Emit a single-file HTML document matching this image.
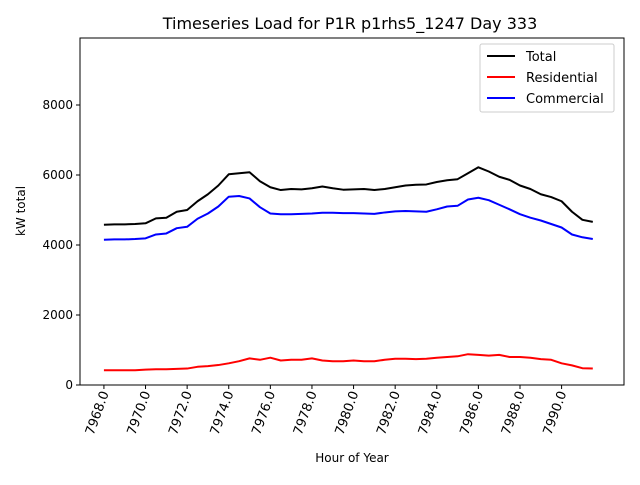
<!DOCTYPE html>
<html><head><meta charset="utf-8"><style>
body{margin:0;background:#fff;font-family:"Liberation Sans",sans-serif}
</style></head><body>
<svg id="chart" width="640" height="480" xmlns="http://www.w3.org/2000/svg" font-family="DejaVu Sans, Liberation Sans, sans-serif">
<rect width="640" height="480" fill="#fff"/>
<text x="350" y="29" font-size="16" text-anchor="middle">Timeseries Load for P1R p1rhs5_1247  Day 333</text>
<g id="axes"></g>
<g id="series"></g>
<text x="352" y="462" font-size="12" text-anchor="middle">Hour of Year</text>
<text transform="translate(25,211) rotate(-90)" font-size="12" text-anchor="middle">kW total</text>
<g>
<rect x="480" y="44" width="134" height="68" fill="#fff" stroke="#ccc" rx="2"/>
<line x1="487" y1="56" x2="515" y2="56" stroke="#000" stroke-width="2"/>
<text x="526" y="61" font-size="13">Total</text>
<line x1="487" y1="77" x2="515" y2="77" stroke="#f00" stroke-width="2"/>
<text x="526" y="82" font-size="13">Residential</text>
<line x1="487" y1="98" x2="515" y2="98" stroke="#00f" stroke-width="2"/>
<text x="526" y="103" font-size="13">Commercial</text>
</g>
</svg>
<script>
const total=[4580,4590,4590,4600,4620,4760,4780,4950,5000,5250,5450,5700,6020,6050,6080,5820,5650,5570,5600,5590,5620,5670,5620,5580,5590,5600,5570,5600,5650,5700,5720,5730,5800,5850,5880,6050,6220,6100,5950,5860,5700,5600,5450,5370,5250,4950,4720,4660];
const commercial=[4150,4160,4160,4170,4190,4300,4330,4480,4520,4750,4900,5100,5380,5400,5330,5080,4900,4880,4880,4890,4900,4920,4920,4910,4910,4900,4890,4930,4960,4970,4960,4950,5020,5100,5120,5300,5350,5280,5150,5020,4880,4780,4700,4600,4500,4300,4220,4170];
const residential=[420,420,420,420,440,450,450,460,470,520,540,570,620,680,760,720,780,700,720,720,760,700,680,680,700,680,680,720,750,750,740,750,780,800,820,880,860,840,860,800,800,780,740,720,620,560,480,470];
const hourStart=7968, hourStep=0.5;
const xTicks=[7968,7970,7972,7974,7976,7978,7980,7982,7984,7986,7988,7990];
const yTicks=[0,2000,4000,6000,8000];
const L=80,R=624,T=38,B=385,xmin=7966.85,xmax=7993.0,ymin=0,ymax=9914;
const xs=v=>L+(v-xmin)/(xmax-xmin)*(R-L);
const ys=v=>B-(v-ymin)/(ymax-ymin)*(B-T);
const NS="http://www.w3.org/2000/svg";
const ax=document.getElementById('axes'),sg=document.getElementById('series');
function mk(t,a,p){const e=document.createElementNS(NS,t);for(const k in a)e.setAttribute(k,a[k]);p.appendChild(e);return e;}
const fr=mk('rect',{x:L,y:T,width:R-L,height:B-T,fill:'none',stroke:'#000','stroke-width':1},ax);


xTicks.forEach(v=>{const x=xs(v);
const l=mk('line',{x1:x,y1:B,x2:x,y2:B+4,stroke:'#000'},ax);


const t=mk('text',{transform:`translate(${x+5},${B+8}) rotate(-70)`,'font-size':13,'text-anchor':'end'},ax);
t.textContent=v.toFixed(1);

});
yTicks.forEach(v=>{const y=ys(v);
const l=mk('line',{x1:L-4,y1:y,x2:L,y2:y,stroke:'#000'},ax);


const t=mk('text',{x:L-7,y:y+4,'font-size':12,'text-anchor':'end'},ax);
t.textContent=v;

});
function line(d,c,n){const p=mk('polyline',{points:d.map((v,i)=>xs(hourStart+i*hourStep)+','+ys(v)).join(' '),fill:'none',stroke:c,'stroke-width':2,'stroke-linejoin':'round'},sg);

}
line(total,'#000','total-line');
line(residential,'#f00','residential-line');
line(commercial,'#00f','commercial-line');
</script>
</body></html>
